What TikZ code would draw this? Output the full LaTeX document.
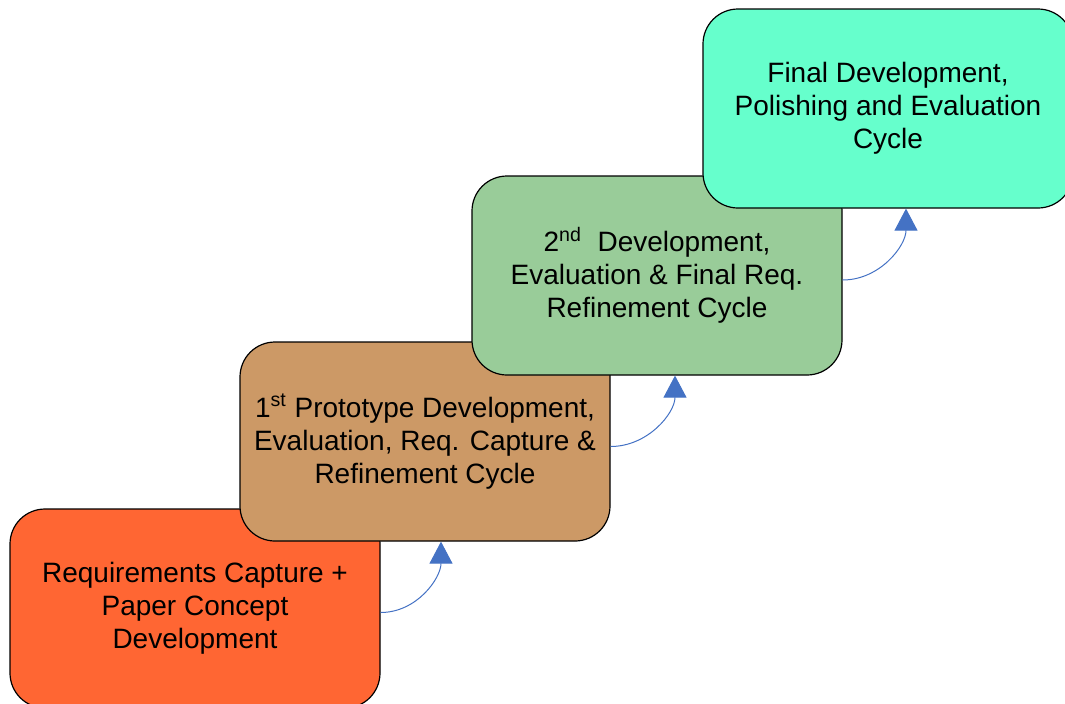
\documentclass[tikz,border=0pt]{standalone}
\usepackage{fontspec}
\setmainfont{Liberation Sans}
\usetikzlibrary{arrows.meta}
\definecolor{cOrange}{HTML}{FF6633}
\definecolor{cTan}{HTML}{CC9966}
\definecolor{cGreen}{HTML}{99CC99}
\definecolor{cAqua}{HTML}{66FFCC}
\definecolor{cArrow}{HTML}{4472C4}
\tikzset{
  stage/.style={draw=black, line width=0.6pt, rounded corners=17.5pt, align=center,
    minimum width=185pt, minimum height=99.5pt, inner sep=0pt,
    font=\fontsize{14}{16.5}\selectfont},
  link/.style={draw=cArrow, line width=0.5pt, -{Triangle[length=11pt,width=11.5pt]}}
}
\begin{document}
\begin{tikzpicture}[x=0.5pt,y=-0.5pt]
\useasboundingbox (0,0) rectangle (1065,703);
\clip (0,0) rectangle (1065,703);
\node[stage, fill=cOrange] (s1) at (195,608.5) {Requirements Capture +\\Paper Concept\\Development};
\node[stage, fill=cTan] (s2) at (425,441.5) {1\textsuperscript{st} Prototype Development,\\Evaluation, Req. Capture \&\\Refinement Cycle};
\node[stage, fill=cGreen] (s3) at (657,275.5) {2\textsuperscript{nd}\ \ Development,\\Evaluation \& Final Req.\\Refinement Cycle};
\node[stage, fill=cAqua] (s4) at (888,108.5) {Final Development,\\Polishing and Evaluation\\Cycle};
\draw[link] ([yshift=-2pt]s1.east) to[out=0,in=-90] ([xshift=8pt]s2.south);
\draw[link] ([yshift=-2.5pt]s2.east) to[out=0,in=-90] ([xshift=9pt]s3.south);
\draw[link] ([yshift=-2.25pt]s3.east) to[out=0,in=-90] ([xshift=9pt]s4.south);
\end{tikzpicture}
\end{document}
